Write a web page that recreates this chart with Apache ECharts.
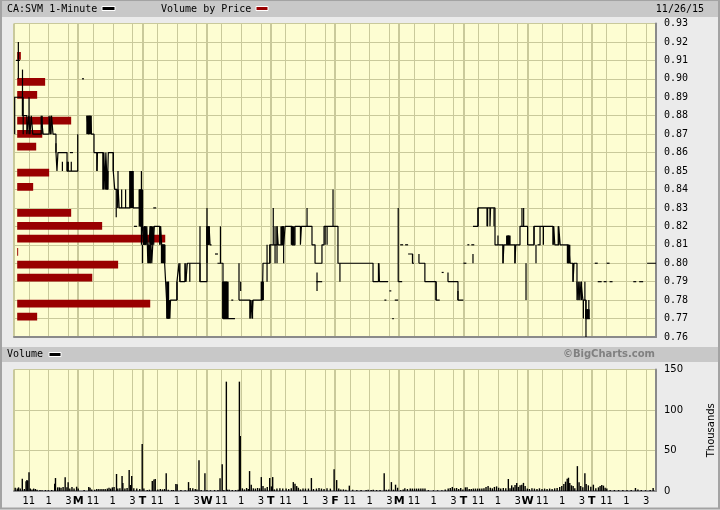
<!DOCTYPE html>
<html><head><meta charset="utf-8">
<script src="https://cdn.jsdelivr.net/npm/echarts/dist/echarts.min.js"></script>
<style>html,body{margin:0;padding:0;background:#ebebeb;}#c{width:720px;height:510px;}</style>
</head><body><div id="c"></div>
<script>
// ---- data ----
// time axis: trading hours since first open (10 sessions x 6.5 h)
const dayLetters = ['', 'M', 'T', 'W', 'T', 'F', 'M', 'T', 'W', 'T'];
const hourLabels = {3: '11', 7: '1', 11: '3'}; // half-hour slot within a session -> clock label
const priceMin = 0.76, priceMax = 0.93, priceStep = 0.01;
const volMax = 150, volStep = 50;

// close price change points [hours, price]; null = no trades
const priceSteps = [
 [0.00,0.89],[0.86,0.88],[1.30,0.87],[1.50,0.88],[1.62,0.87],[1.75,0.88],[1.90,0.87],[2.75,0.88],[2.95,0.87],[3.55,0.88],[3.70,0.87],[3.80,0.88],[3.95,0.87],[4.25,0.86],[4.35,0.85],[4.45,0.86],[5.37,0.85],[6.50,0.85], null,
 [7.39,0.88],[7.55,0.87],[7.70,0.88],[7.85,0.87],[8.10,0.86],[8.40,0.85],[8.45,0.86],[9.00,0.84],[9.10,0.86],[9.20,0.84],[9.30,0.86],[9.45,0.84],[9.55,0.86],[10.05,0.85],[10.20,0.84],[10.45,0.83],[10.55,0.84],[10.65,0.83],[11.75,0.85],[11.85,0.83],[11.95,0.85],[12.05,0.83],[12.70,0.84],[12.80,0.82],[12.90,0.84],[13.00,0.82],
 [13.10,0.81],[13.25,0.82],[13.35,0.81],[13.45,0.82],[13.55,0.80],[13.65,0.81],[13.80,0.82],[13.95,0.80],[14.05,0.81],[14.20,0.82],[14.75,0.81],[14.85,0.82],[14.95,0.81],[15.25,0.80],[15.45,0.78],[15.55,0.77],[15.65,0.78],[15.75,0.77],[15.85,0.78],[16.50,0.79],[16.70,0.80],[16.80,0.79],[17.30,0.80],[17.40,0.79],[17.55,0.80],[18.83,0.79],[19.54,0.82],[19.65,0.81],[19.75,0.82],[19.85,0.81],[20.00,0.81], null,
 [20.60,0.80],[21.16,0.77],[22.37,0.77], null,
 [22.78,0.78],[23.90,0.77],[24.00,0.78],[24.10,0.77],[24.20,0.78],[25.10,0.79],[25.15,0.78],[25.21,0.80],[25.90,0.81],
 [26.63,0.82],[26.75,0.81],[27.20,0.82],[27.30,0.81],[27.45,0.82],[28.15,0.81],[28.45,0.82],[29.00,0.81],[29.10,0.82],[30.17,0.81],[30.48,0.80],[31.18,0.81],[31.39,0.82],[32.80,0.80],
 [36.35,0.79],[36.90,0.80],[37.00,0.79],[37.87,0.79], null,
 [38.90,0.79],[39.30,0.79], null,
 [39.90,0.805],[40.35,0.80],[40.50,0.80], null,
 [41.00,0.80],[41.60,0.79],[42.73,0.78],[43.10,0.78], null,
 [43.94,0.79],[44.95,0.78],[45.50,0.78], null,
 [46.47,0.82],[46.98,0.83],[48.19,0.82],[48.25,0.83],[48.70,0.81],[49.51,0.80],[49.60,0.81],[50.72,0.80],[50.80,0.81],[51.23,0.82],[52.00,0.81],
 [52.65,0.82],[54.57,0.81],[54.65,0.82],[54.75,0.81],[55.15,0.82],[55.30,0.81],[56.09,0.80],[56.15,0.81],[56.30,0.80],[56.60,0.79],[56.70,0.80],[57.00,0.79],[57.10,0.78],[57.20,0.79],[57.30,0.78],[57.40,0.79],[57.60,0.78],[57.90,0.77],[58.30,0.77], null,
 [64.10,0.80],[65.00,0.80]
];

// single-minute high/low ranges [hours, low, high]
const rangeSpikes = [
 [0.07,0.87,0.89],[0.44,0.90,0.92],[0.86,0.88,0.905],[0.93,0.87,0.89],[1.52,0.87,0.89],[2.85,0.87,0.88],[3.75,0.87,0.88],[4.25,0.86,0.865],[4.9,0.85,0.855],[5.4,0.85,0.855],[5.5,0.85,0.855],[5.8,0.85,0.855],[6.45,0.85,0.87],
 [8.40,0.85,0.86],[9.05,0.84,0.86],[10.05,0.85,0.86],[10.35,0.825,0.84],[10.53,0.83,0.85],[10.9,0.83,0.84],[11.3,0.83,0.84],[12.9,0.81,0.85],
 [13.0,0.80,0.81],[13.8,0.80,0.81],[14.15,0.81,0.82],[14.8,0.81,0.82],[15.5,0.77,0.79],[15.65,0.77,0.79],[16.5,0.78,0.79],[16.8,0.79,0.80],[17.4,0.79,0.80],[17.8,0.79,0.80],[18.83,0.79,0.82],
 [19.54,0.80,0.83],[20.90,0.80,0.82],[22.78,0.78,0.80],[22.95,0.785,0.79],[23.9,0.77,0.78],[24.15,0.77,0.78],[25.62,0.79,0.81],[25.92,0.80,0.81],
 [26.25,0.81,0.83],[26.43,0.80,0.82],[26.63,0.80,0.82],[27.3,0.80,0.82],[29.67,0.82,0.83],[30.68,0.785,0.795],[31.5,0.81,0.82],[31.7,0.81,0.82],[32.3,0.82,0.84],[33.0,0.79,0.80],
 [36.95,0.79,0.80],[38.9,0.79,0.83],
 [40.35,0.80,0.805],[41.0,0.80,0.805],[42.73,0.78,0.79],[43.94,0.79,0.795],[44.95,0.78,0.785],
 [46.47,0.80,0.805],[46.98,0.82,0.83],[47.89,0.82,0.83],[47.95,0.82,0.83],[48.6,0.82,0.83],[49.0,0.81,0.815],[49.51,0.80,0.81],[50.72,0.80,0.81],[51.43,0.82,0.83],[51.6,0.82,0.83],[51.84,0.78,0.80],
 [52.65,0.81,0.82],[52.85,0.80,0.81],[53.26,0.81,0.82],[53.6,0.81,0.82],[54.6,0.81,0.82],[55.1,0.81,0.82],[56.6,0.79,0.80],[57.0,0.78,0.79],[57.2,0.78,0.79],[57.45,0.78,0.79],[57.8,0.78,0.79],[57.65,0.77,0.78],[57.91,0.76,0.78],[58.2,0.77,0.78]
];

// heavy clusters of ranges [hours, low, high]
const denseSpikes = [
 [7.45,0.87,0.88],[7.6,0.87,0.88],[7.75,0.87,0.88],[9.35,0.84,0.85],[9.45,0.84,0.85],[11.8,0.83,0.85],[11.9,0.83,0.85],[12.0,0.83,0.85],[12.75,0.82,0.84],[12.85,0.82,0.84],[12.95,0.82,0.84],
 [13.2,0.81,0.82],[13.3,0.81,0.82],[13.85,0.81,0.82],[13.95,0.81,0.82],[13.7,0.80,0.81],[15.0,0.80,0.81],[15.2,0.80,0.81],[15.55,0.77,0.79],[15.7,0.77,0.78],
 [19.6,0.81,0.82],[19.7,0.81,0.82],[21.2,0.77,0.79],[21.3,0.77,0.79],[21.4,0.77,0.79],[21.5,0.77,0.79],[21.6,0.77,0.79],[25.1,0.78,0.79],[25.17,0.78,0.79],
 [27.1,0.81,0.82],[27.22,0.81,0.82],[28.15,0.81,0.82],[28.3,0.81,0.82],[49.95,0.81,0.815],[50.05,0.81,0.815],[50.15,0.81,0.815],[56.1,0.80,0.81],[56.2,0.80,0.81],[57.95,0.77,0.775],[58.05,0.77,0.775],[58.15,0.77,0.775]
];

// isolated trades [fromHours, toHours, price]
const tradeTicks = [
 [0.2,0.6,0.91],[5.67,5.97,0.86],[6.88,7.09,0.90],[12.15,12.45,0.82],[14.1,14.4,0.83],[20.35,20.65,0.805],[22.0,22.2,0.78],[30.6,31.2,0.79],
 [37.5,37.7,0.78],[38.0,38.2,0.785],[38.3,38.45,0.77],[38.55,38.9,0.78],[39.1,39.4,0.81],[39.6,39.9,0.81],[43.3,43.5,0.795],[45.5,45.8,0.80],[45.9,46.1,0.81],[46.3,46.6,0.81],[53.0,53.3,0.81],
 [58.8,59.1,0.80],[60.0,60.3,0.80],[59.1,59.5,0.79],[59.7,60.0,0.79],[60.3,60.6,0.79],[62.7,63.0,0.79],[63.3,63.7,0.79]
];

// volume by price [relative volume, price bin centre]
const vbpVolume = [2.3,17.5,12.5,33.8,15.7,11.9,20,10,33.8,53.2,92.7,0.6,63.2,47,83.3,12.5];
const vbpPrice  = [0.9125,0.8984,0.8913,0.8773,0.8702,0.8632,0.8491,0.8414,0.8273,0.8202,0.8133,0.8061,0.7992,0.7922,0.7781,0.7710];

// volume [hours, thousands]
const volume = [
 [0.12,4],[0.33,3],[0.46,4.5],[0.63,3],[0.84,15],[1.05,2.5],[1.22,12],[1.31,13.5],[1.39,12.7],[1.52,23],[1.65,3],[1.82,2],[1.99,3],[2.16,2.5],[2.33,1.6],[2.63,1.2],[2.84,1],[3.18,1.2],[3.48,1],[3.82,1.2],
 [4.12,9],[4.20,16],[4.42,4.5],[4.59,4.5],[4.76,4],[4.97,5],[5.18,17],[5.36,4.5],[5.48,10.7],[5.65,3],[5.87,5],[6.08,3],[6.34,5.3],[6.5,3],
 [7.1,1.2],[7.57,5],[7.70,4],[7.87,2],[8.17,1.6],[8.38,2.5],[8.59,2.5],[8.81,2.5],[9.02,2.5],[9.23,2.5],[9.45,3],[9.62,4],[9.79,3],[9.96,4.5],[10.13,5],[10.38,21],[10.51,3],[10.72,3.3],[10.94,18.4],[11.02,10],[11.23,3],[11.45,3.7],[11.66,25.8],[11.79,7.4],[11.92,18.4],[12.13,3.3],[12.43,3],[12.73,2.5],[12.98,58],
 [13.15,3],[13.49,1.2],[13.71,1.6],[14.0,12.3],[14.17,14.3],[14.30,14.8],[14.56,2],[14.81,2.5],[15.03,2],[15.24,2.5],[15.41,22],[15.62,1.6],[15.96,1.2],[16.13,1.2],[16.39,8.6],[16.52,8.2],[16.9,1.2],[17.33,1],[17.67,11],[17.84,3.7],[18.1,3.3],[18.35,2.5],[18.52,2],[18.73,38],[18.95,1.2],[19.33,22],
 [19.54,1.2],[19.89,1],[20.31,1.2],[20.65,1.2],[20.86,15.6],[21.08,33],[21.25,1.2],[21.5,135],[21.63,1.6],[21.8,1.6],[22.1,1.2],[22.44,1.2],[22.7,1.6],[22.82,135],[22.91,68],[23.12,3.3],[23.33,2],[23.55,3.7],[23.72,2.5],[23.85,24.6],[24.02,7.8],[24.23,3.3],[24.44,3],[24.66,3.7],[24.87,3.3],[25.04,17.2],[25.21,6.1],[25.42,3.3],[25.64,4.9],[25.89,16],
 [26.06,5.7],[26.19,17.2],[26.36,2],[26.62,3],[26.92,3.3],[27.21,3],[27.55,3],[27.81,2.5],[28.07,3.3],[28.28,11],[28.45,9],[28.62,6.1],[28.79,4],[29.0,2],[29.26,3],[29.51,3],[29.81,3],[30.11,16],[30.32,2.5],[30.62,3],[30.88,3.7],[31.13,3],[31.39,2.5],[31.69,3.3],[32.03,3],[32.41,27],
 [32.67,13.5],[32.88,3],[33.09,2],[33.35,2],[33.6,1.6],[33.95,6.6],[34.29,1.6],[34.71,1.2],[35.14,1.2],[35.65,1.2],[35.86,1.6],[36.16,1.2],[36.37,1.6],[36.71,1.2],[37.06,1.2],[37.48,22],[37.69,1.6],[37.95,2],[38.21,11],[38.42,1.6],[38.63,7.8],[38.84,4],
 [39.14,1.2],[39.4,2],[39.57,3.3],[39.83,2.5],[40.12,3],[40.33,3],[40.55,3],[40.76,3],[40.97,3],[41.19,3],[41.4,3],[41.61,3],[41.95,1.2],[42.47,1],[42.89,1],[43.32,1],[43.66,2],[43.96,3],[44.17,3.7],[44.38,5],[44.6,3.3],[44.81,3.7],[45.02,2.5],[45.23,3.7],[45.45,2],
 [45.7,4.5],[45.87,4.5],[46.09,2.5],[46.3,2.5],[46.51,3],[46.72,3],[46.94,3],[47.15,3],[47.37,3],[47.58,3.3],[47.79,5],[48.0,6.1],[48.22,4],[48.43,3.3],[48.64,5],[48.86,5.7],[49.07,4],[49.28,3],[49.54,3.7],[49.79,3.3],[50.05,14.8],[50.22,3.3],[50.39,7],[50.56,4.5],[50.73,7.4],[50.9,10],[51.07,5],[51.24,7],[51.41,7.8],[51.58,10],[51.75,6.1],[51.97,3],
 [52.18,2.5],[52.44,3.3],[52.69,3],[52.95,2.5],[53.2,3.3],[53.46,2.5],[53.72,3],[53.97,2.5],[54.23,3],[54.48,2.5],[54.74,3.3],[54.99,3.7],[55.25,5],[55.46,6.1],[55.67,8.6],[55.84,11.5],[56.01,15.2],[56.14,16.4],[56.27,10],[56.44,7],[56.61,6.1],[56.78,3.3],[57.04,30.7],[57.21,10.7],[57.38,6.1],[57.59,4.5],[57.8,22],[57.93,8.6],[58.15,7],[58.4,5.3],
 [58.66,7.8],[58.91,3.3],[59.17,4.5],[59.34,6.1],[59.51,7.4],[59.68,6.6],[59.85,4],[60.02,3],[60.36,1.2],[60.79,1.2],[61.21,1.2],[61.64,1.2],[62.06,1.2],[62.49,1.2],[62.92,3.7],[63.17,2],[63.51,1.2],[63.94,1],[64.41,1.2],[64.71,3.7]
];

// ---- chart ----
const sessions = dayLetters.length, slotsPerDay = 13, totalHours = sessions * 6.5;
const lastSlot = sessions * slotsPerDay;
const slots = [];
for (let i = 0; i <= lastSlot; i++) slots.push(i);
const vbpData = vbpVolume.map((v, i) => [v, vbpPrice[i]]);
const grid = '#c9c99b', plotBg = '#fdfdd2', edge = '#8a8a8a';
const mono = 'DejaVu Sans Mono', sans = 'DejaVu Sans';

function hourAxis(gi, labels) {
  return {type: 'category', gridIndex: gi, data: slots, boundaryGap: false, position: 'bottom',
    axisLine: {show: true, onZero: false, lineStyle: {color: edge, width: 2}}, axisTick: {show: false},
    axisLabel: {show: labels, interval: i => hourLabels[i % slotsPerDay] !== undefined, formatter: (v, i) => hourLabels[i % slotsPerDay] || '',
      color: '#000', fontFamily: sans, fontSize: 10, margin: 5},
    splitLine: {show: true, interval: i => hourLabels[i % slotsPerDay] !== undefined, lineStyle: {color: grid, width: 1}}};
}
function dayAxis(gi, labels) {
  return {type: 'category', gridIndex: gi, data: slots, boundaryGap: false, position: 'bottom',
    axisLine: {show: false}, axisTick: {show: false},
    axisLabel: {show: labels, interval: i => i % slotsPerDay === 0 && i > 0 && i < lastSlot,
      formatter: (v, i) => dayLetters[i / slotsPerDay] || '', color: '#000', fontFamily: sans, fontSize: 11, fontWeight: 'bold', margin: 5},
    splitLine: {show: true, interval: i => i % slotsPerDay === 0 && i < lastSlot, lineStyle: {color: grid, width: 2}}};
}
function segItem(strokeWidth, kind) {
  return function (params, api) {
    let a, b;
    if (kind === 'tick') { a = api.coord([api.value(0), api.value(2)]); b = api.coord([api.value(1), api.value(2)]); }
    else { a = api.coord([api.value(0), api.value(1)]); b = api.coord([api.value(0), api.value(2)]); }
    return {type: 'line', shape: {x1: a[0], y1: a[1], x2: b[0], y2: b[1]}, style: {stroke: '#000', lineWidth: strokeWidth}};
  };
}

const chart = echarts.init(document.getElementById('c'), null, {renderer: 'canvas'});
chart.setOption({
  animation: false,
  backgroundColor: '#ebebeb',
  grid: [
    {left: 14, top: 23.5, width: 642, height: 313.5, show: true, backgroundColor: plotBg, borderWidth: 0, containLabel: false, outerBoundsMode: 'none'},
    {left: 14, top: 369.5, width: 642, height: 121.5, show: true, backgroundColor: plotBg, borderWidth: 0, containLabel: false, outerBoundsMode: 'none'}
  ],
  xAxis: [
    hourAxis(0, false), dayAxis(0, false),
    {type: 'value', gridIndex: 0, min: 0, max: totalHours, show: false},
    {type: 'value', gridIndex: 0, min: -2, max: 400, show: false},
    hourAxis(1, true), dayAxis(1, true),
    {type: 'value', gridIndex: 1, min: 0, max: totalHours, show: false}
  ],
  yAxis: [
    {type: 'value', gridIndex: 0, position: 'right', min: priceMin, max: priceMax, interval: priceStep,
      axisLine: {show: true, onZero: false, lineStyle: {color: edge, width: 2}}, axisTick: {show: false},
      axisLabel: {formatter: v => v.toFixed(2), color: '#000', fontFamily: mono, fontSize: 10, margin: 8},
      splitLine: {lineStyle: {color: grid, width: 1}}},
    {type: 'value', gridIndex: 1, position: 'right', min: 0, max: volMax, interval: volStep,
      name: 'Thousands', nameLocation: 'middle', nameRotate: 90, nameGap: 50,
      nameTextStyle: {color: '#000', fontFamily: sans, fontSize: 10},
      axisLine: {show: true, onZero: false, lineStyle: {color: edge, width: 2}}, axisTick: {show: false},
      axisLabel: {color: '#000', fontFamily: sans, fontSize: 10, margin: 8},
      splitLine: {lineStyle: {color: grid, width: 1}}}
  ],
  series: [
    {type: 'custom', xAxisIndex: 3, yAxisIndex: 0, z: 1, data: vbpData, clip: true,
      renderItem: (params, api) => {
        const a = api.coord([0, api.value(1) + 0.0021]);
        const b = api.coord([api.value(0), api.value(1) - 0.0021]);
        return {type: 'rect', shape: {x: a[0], y: a[1], width: b[0] - a[0], height: b[1] - a[1]}, style: {fill: '#990000'}};
      }},
    {type: 'line', xAxisIndex: 2, yAxisIndex: 0, z: 3, data: priceSteps, step: 'end', showSymbol: false, connectNulls: false,
      lineStyle: {color: '#000', width: 1.2}},
    {type: 'custom', xAxisIndex: 2, yAxisIndex: 0, z: 3, data: rangeSpikes, renderItem: segItem(1.2, 'v')},
    {type: 'custom', xAxisIndex: 2, yAxisIndex: 0, z: 3, data: denseSpikes, renderItem: segItem(2.6, 'v')},
    {type: 'custom', xAxisIndex: 2, yAxisIndex: 0, z: 3, data: tradeTicks, renderItem: segItem(1.2, 'tick')},
    {type: 'bar', xAxisIndex: 6, yAxisIndex: 1, data: volume, barWidth: 1.4, itemStyle: {color: '#000'}}
  ],
  graphic: [
    {type: 'rect', z: -10, shape: {x: 1, y: 0.5, width: 718, height: 508}, style: {fill: null, stroke: '#a3a3a3', lineWidth: 2}},
    {type: 'rect', z: -5, shape: {x: 2, y: 2, width: 716, height: 15}, style: {fill: '#c8c8c8'}},
    {type: 'rect', z: -5, shape: {x: 2, y: 347, width: 716, height: 15}, style: {fill: '#c8c8c8'}},
    {type: 'text', x: 7, y: 9.5, style: {text: 'CA:SVM 1-Minute', font: '10px "DejaVu Sans Mono"', fill: '#000', verticalAlign: 'middle'}},
    {type: 'rect', shape: {x: 102, y: 6.5, width: 13, height: 4}, style: {fill: '#000', stroke: '#fff', lineWidth: 1}},
    {type: 'text', x: 161, y: 9.5, style: {text: 'Volume by Price', font: '10px "DejaVu Sans Mono"', fill: '#000', verticalAlign: 'middle'}},
    {type: 'rect', shape: {x: 256, y: 6.5, width: 12, height: 4}, style: {fill: '#990000', stroke: '#fff', lineWidth: 1}},
    {type: 'text', x: 704, y: 9.5, style: {text: '11/26/15', font: '10px "DejaVu Sans Mono"', fill: '#000', align: 'right', verticalAlign: 'middle'}},
    {type: 'text', x: 7, y: 354.5, style: {text: 'Volume', font: '10px "DejaVu Sans Mono"', fill: '#000', verticalAlign: 'middle'}},
    {type: 'rect', shape: {x: 49, y: 352.5, width: 12, height: 4}, style: {fill: '#000', stroke: '#fff', lineWidth: 1}},
    {type: 'text', x: 655, y: 354.5, style: {text: '©BigCharts.com', font: 'bold 10px "DejaVu Sans"', fill: '#808080', align: 'right', verticalAlign: 'middle'}}
  ]
});
</script></body></html>
